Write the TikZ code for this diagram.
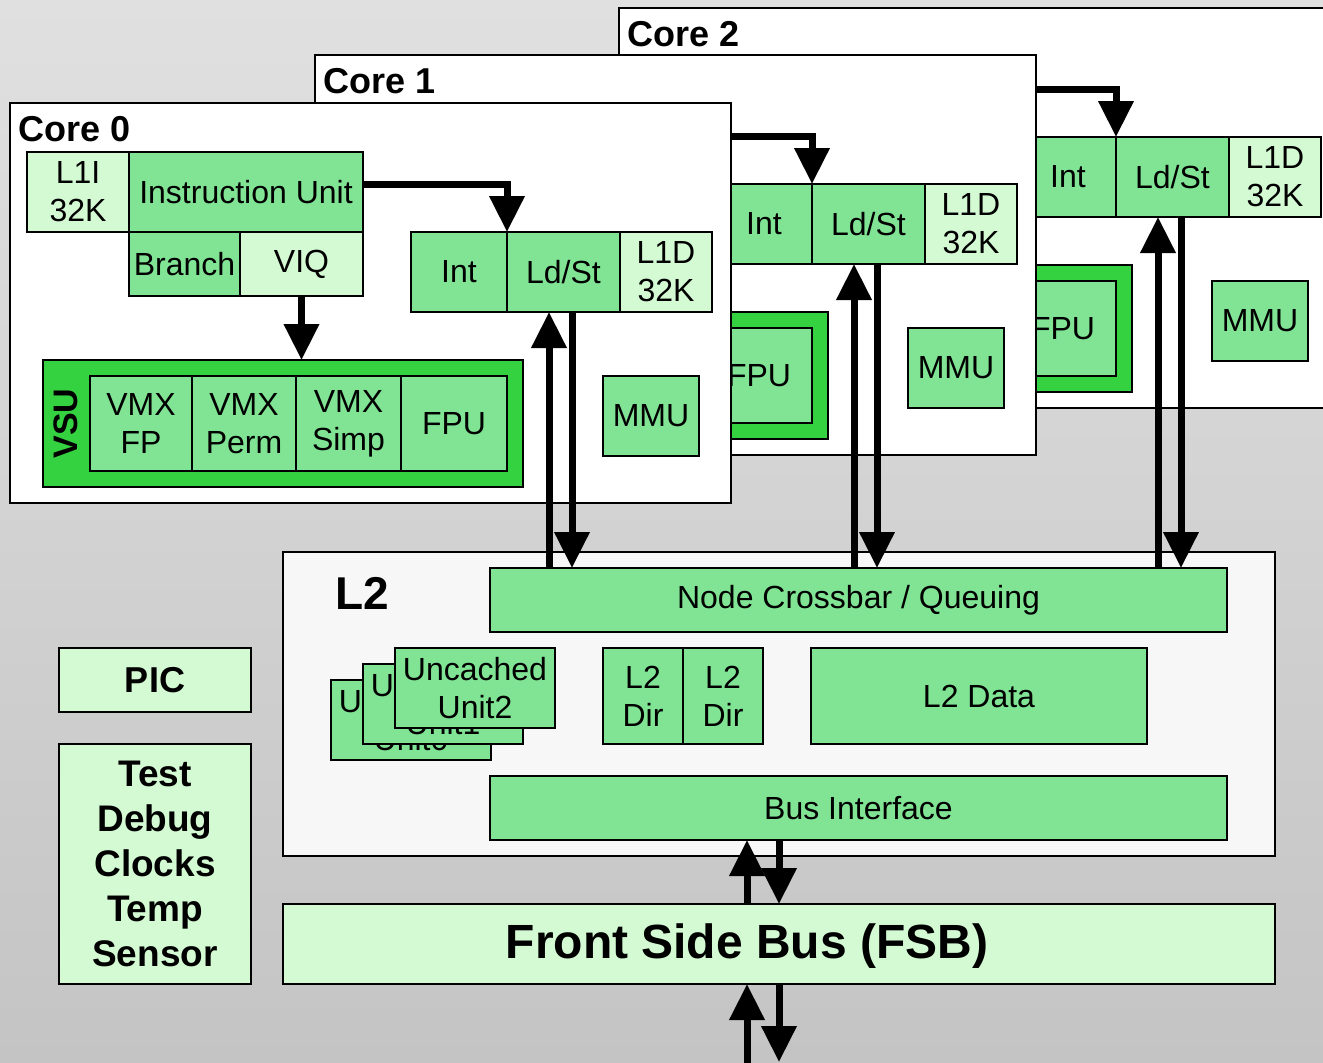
\documentclass[tikz,border=0pt]{standalone}
\usepackage{fontspec}
\setmainfont{Liberation Sans}
\usetikzlibrary{arrows.meta}
\definecolor{midgreen}{RGB}{128,228,148}
\definecolor{litegreen}{RGB}{212,250,212}
\definecolor{vsugreen}{RGB}{52,210,64}
\definecolor{bgtop}{RGB}{224,224,224}
\definecolor{bgbot}{RGB}{196,196,196}
\definecolor{ltwo}{RGB}{247,247,247}

\begin{document}
\begin{tikzpicture}[x=1pt, y=-1pt]
\tikzset{box/.style = {draw, line width=2pt, inner sep=0pt, outer sep=0pt, fill=midgreen, align=center, font=\fontsize{32}{38}\selectfont}}
\tikzset{litebox/.style = {box, fill=litegreen}}
\tikzset{corebox/.style = {draw, line width=2pt, fill=white, inner sep=0pt, outer sep=0pt}}
\tikzset{heading/.style = {font=\fontsize{36}{40}\selectfont\bfseries, inner sep=0pt}}
\tikzset{flow/.style = {draw, line width=7pt, -{Triangle[length=36pt, width=34pt]}}}

% background
\useasboundingbox (0,0) rectangle (1323,1063);
\clip (0,0) rectangle (1323,1063);
\shade[top color=bgtop, bottom color=bgbot] (0,0) rectangle (1323,1063);

% the three cores, back to front
\foreach \n/\dx/\dy in {2/609/-95, 1/305/-48, 0/0/0} {
\begin{scope}[shift={(\dx,\dy)}]
\node[corebox, minimum width=721pt, minimum height=400pt] (core\n) at (370.5,303) {};
\node[heading, anchor=west] (title\n) at (18,129) {Core \n};
\node[litebox, minimum width=102pt, minimum height=80pt] (l1i\n) at (78,192) {L1I\\32K};
\node[box, minimum width=234pt, minimum height=80pt] (iu\n) at (246,192) {Instruction Unit};
\node[box, minimum width=111pt, minimum height=64pt] (branch\n) at (184.5,264) {Branch};
\node[litebox, minimum width=123pt, minimum height=64pt] (viq\n) at (301.5,264) {VIQ};
\node[box, fill=vsugreen, minimum width=480pt, minimum height=127pt] (vsu\n) at (283,423.5) {};
\node[font=\fontsize{34}{38}\selectfont\bfseries, rotate=90] (vsulbl\n) at (66,423.5) {VSU};
\node[box, minimum width=102pt, minimum height=95pt] (vmxfp\n) at (141,423.5) {VMX\\FP};
\node[box, minimum width=104pt, minimum height=95pt] (vmxperm\n) at (244,423.5) {VMX\\Perm};
\node[box, minimum width=105pt, minimum height=95pt] (vmxsimp\n) at (348.5,423.5) {VMX\\Simp};
\node[box, minimum width=106pt, minimum height=95pt] (fpu\n) at (454,423.5) {FPU};
\node[box, minimum width=96pt, minimum height=80pt] (int\n) at (459,272) {Int};
\node[box, minimum width=113pt, minimum height=80pt] (ldst\n) at (563.5,272) {Ld/St};
\node[litebox, minimum width=92pt, minimum height=80pt] (l1d\n) at (666,272) {L1D\\32K};
\node[box, minimum width=96pt, minimum height=80pt] (mmu\n) at (651,416) {MMU};

\draw[flow] ([yshift=8pt]iu\n.east) -| (int\n.north east);
\draw[flow] (viq\n.south) -- (vsu\n.north -| viq\n.south);
\end{scope}
}

% L2
\node[corebox, fill=ltwo, minimum width=992pt, minimum height=304pt] (l2) at (779,704) {};
\node[font=\fontsize{46}{50}\selectfont\bfseries, inner sep=0pt, anchor=west] (l2lbl) at (335,593) {L2};
\node[box, minimum width=737pt, minimum height=64pt] (xbar) at (858.5,600) {Node Crossbar / Queuing};
\node[box, minimum width=160pt, minimum height=80pt] (unc0) at (411,720) {Uncached\\Unit0};
\node[box, minimum width=160pt, minimum height=80pt] (unc1) at (443,704) {Uncached\\Unit1};
\node[box, minimum width=160pt, minimum height=80pt] (unc2) at (475,688) {Uncached\\Unit2};
\node[box, minimum width=80pt, minimum height=96pt] (dira) at (643,696) {L2\\Dir};
\node[box, minimum width=80pt, minimum height=96pt] (dirb) at (723,696) {L2\\Dir};
\node[box, minimum width=336pt, minimum height=96pt] (l2data) at (979,696) {L2 Data};
\node[box, minimum width=737pt, minimum height=64pt] (bus) at (858.5,808) {Bus Interface};

% FSB and side blocks
\node[litebox, minimum width=992pt, minimum height=80pt] (fsb) at (779,944) {};
\node[font=\fontsize{48}{52}\selectfont\bfseries, inner sep=0pt] (fsblbl) at (747,946) {Front Side Bus (FSB)};
\node[litebox, minimum width=192pt, minimum height=64pt, font=\fontsize{36}{40}\selectfont\bfseries] (pic) at (155,680) {PIC};
\node[litebox, minimum width=192pt, minimum height=240pt, font=\fontsize{37}{45}\selectfont\bfseries] (misc) at (155,864) {Test\\Debug\\Clocks\\Temp\\Sensor};

% core to crossbar links
\foreach \n in {0,1,2} {
\coordinate (up\n) at ([xshift=-14.5pt]ldst\n.south);
\coordinate (dn\n) at ([xshift=8.5pt]ldst\n.south);
\draw[flow] (up\n |- xbar.north) -- (up\n);
\draw[flow] (dn\n) -- (dn\n |- xbar.north);
}

% bus links
\coordinate (bup) at ([xshift=-32pt]fsb.north);
\coordinate (bdn) at (fsb.north);
\draw[flow] (bup) -- (bup |- bus.south);
\draw[flow] (bdn |- bus.south) -- (bdn);
\coordinate (outup) at (747,1075);
\coordinate (outdn) at (779,1062);
\draw[flow] (outup) -- (outup |- fsb.south);
\draw[flow] (outdn |- fsb.south) -- (outdn);
\end{tikzpicture}
\end{document}
